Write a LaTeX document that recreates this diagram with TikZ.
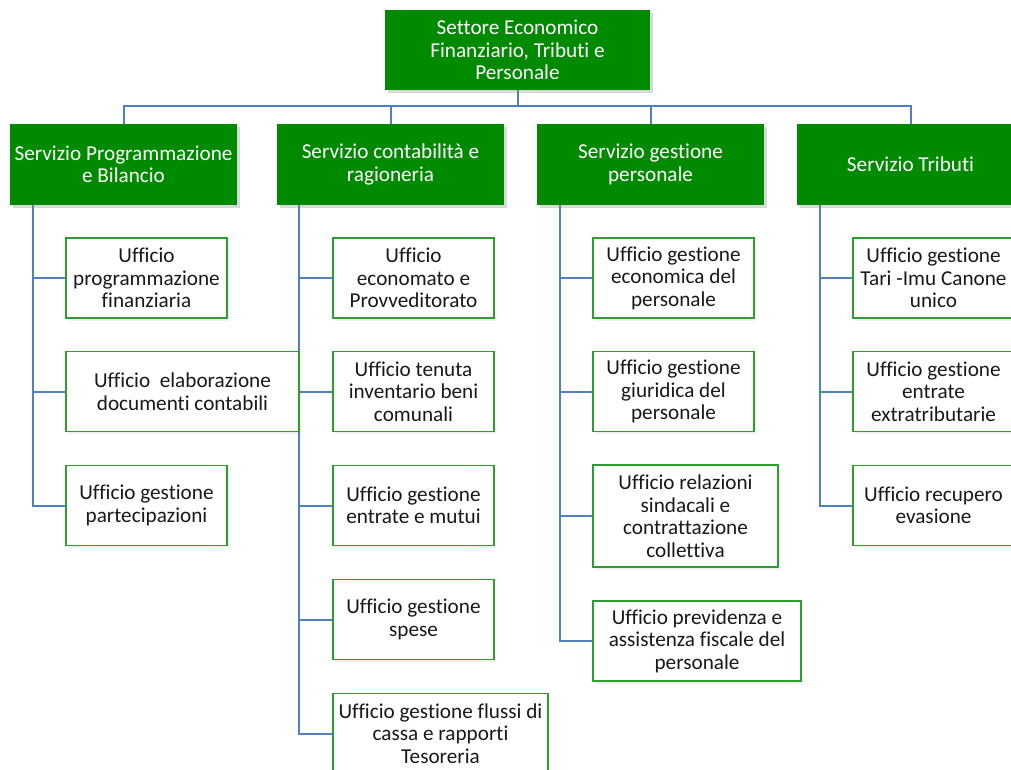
\documentclass[tikz,border=0pt]{standalone}
\usepackage{fontspec}
\setmainfont[Ligatures=NoCommon]{Carlito}
\usetikzlibrary{shadows,backgrounds}
\definecolor{hdgreen}{RGB}{0,138,0}
\definecolor{boxgreen}{RGB}{46,158,46}
\definecolor{linkblue}{RGB}{79,129,189}
\begin{document}
\begin{tikzpicture}[x=1pt,y=-1pt,
  txt/.style={align=center, inner sep=0pt, font=\fontsize{21.2}{22.5}\selectfont},
  head/.style={txt, fill=hdgreen, text=white,
    drop shadow={opacity=0.3, shadow xshift=2.5pt, shadow yshift=-3pt}},
  office/.style={txt, draw=boxgreen, line width=1.8pt, fill=white, text=black!90,
    minimum height=80,
    drop shadow={opacity=0.12, shadow xshift=2pt, shadow yshift=-2.5pt}},
  conn/.style={draw=linkblue, line width=2pt}]
\path[use as bounding box, clip] (0,0) rectangle (1011,769);

% sector head and services
\node[head, minimum width=265, minimum height=80] (top) at (517.5,50)
  {Settore Economico\\Finanziario, Tributi e\\Personale};
\node[head, minimum width=227, minimum height=81] (s1) at (123.5,164.5)
  {Servizio Programmazione\\e Bilancio};
\node[head, minimum width=227, minimum height=81] (s2) at (390.5,164.5)
  {Servizio contabilità e\\ragioneria};
\node[head, minimum width=227, minimum height=81] (s3) at (650.5,164.5)
  {Servizio gestione\\personale};
\node[head, minimum width=227, minimum height=81] (s4) at (910.5,164.5)
  {Servizio Tributi};

% offices, column 1
\node[office, minimum width=161] (o11) at (146.5,278) {Ufficio\\programmazione\\finanziaria};
\node[office, minimum width=233] (o12) at (182.5,391.5) {Ufficio\ \ elaborazione\\documenti contabili};
\node[office, minimum width=161] (o13) at (146.5,505.5) {Ufficio gestione\\partecipazioni};
% column 2
\node[office, minimum width=161] (o21) at (413.5,278) {Ufficio\\economato e\\Provveditorato};
\node[office, minimum width=161] (o22) at (413.5,391.5) {Ufficio tenuta\\inventario beni\\comunali};
\node[office, minimum width=161] (o23) at (413.5,505.5) {Ufficio gestione\\entrate e mutui};
\node[office, minimum width=161] (o24) at (413.5,619.5) {Ufficio gestione\\spese};
\node[office, minimum width=215] (o25) at (440.5,733.5) {Ufficio gestione flussi di\\cassa e rapporti\\Tesoreria};
% column 3
\node[office, minimum width=161] (o31) at (673.5,278) {Ufficio gestione\\economica del\\personale};
\node[office, minimum width=161] (o32) at (673.5,391.5) {Ufficio gestione\\giuridica del\\personale};
\node[office, minimum width=185, minimum height=102] (o33) at (685.5,516) {Ufficio relazioni\\sindacali e\\contrattazione\\collettiva};
\node[office, minimum width=208] (o34) at (697,641) {Ufficio previdenza e\\assistenza fiscale del\\personale};
% column 4
\node[office, minimum width=161] (o41) at (933.5,278) {Ufficio gestione\\Tari -Imu Canone\\unico};
\node[office, minimum width=161] (o42) at (933.5,391.5) {Ufficio gestione\\entrate\\extratributarie};
\node[office, minimum width=161] (o43) at (933.5,505.5) {Ufficio recupero\\evasione};

\begin{scope}[on background layer]
% connectors from the sector to the services
\draw[conn] (top.south) -- ++(0,16) coordinate (bus);
\draw[conn] (s1.north) |- (bus) -| (s4.north);
\draw[conn] (s2.north) -- (s2.north |- bus);
\draw[conn] (s3.north) -- (s3.north |- bus);

% spines from each service to its offices
\coordinate (p1) at ([xshift=23pt]s1.south west);
\coordinate (p2) at ([xshift=22pt]s2.south west);
\coordinate (p3) at ([xshift=23pt]s3.south west);
\coordinate (p4) at ([xshift=23pt]s4.south west);
\foreach \o in {o11,o12,o13} \draw[conn] (p1) |- (\o.west);
\foreach \o in {o21,o22,o23,o24,o25} \draw[conn] (p2) |- (\o.west);
\foreach \o in {o31,o32,o33,o34} \draw[conn] (p3) |- (\o.west);
\foreach \o in {o41,o42,o43} \draw[conn] (p4) |- (\o.west);
\end{scope}
\end{tikzpicture}
\end{document}
